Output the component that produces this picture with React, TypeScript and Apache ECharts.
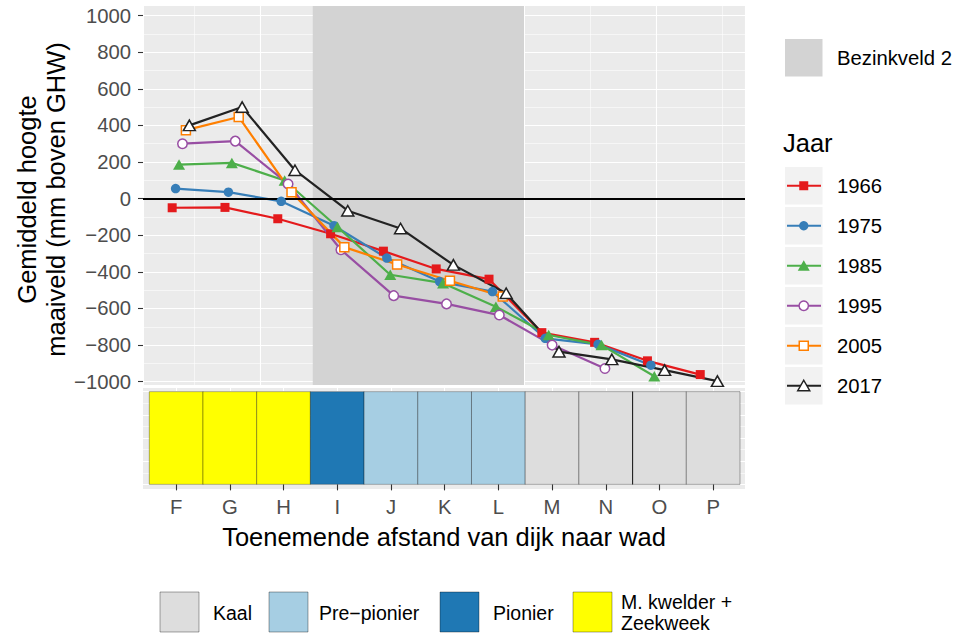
import { useEffect, useRef } from 'react';
import * as echarts from 'echarts';

// ---------- data ----------
const categories = ['F', 'G', 'H', 'I', 'J', 'K', 'L', 'M', 'N', 'O', 'P'];
const distanceM = [40, 80, 120, 160, 200, 240, 280, 320, 360, 400, 440];
const years = ['1966', '1975', '1985', '1995', '2005', '2017'];
const elev1966 = [-50, -48, -110, -192, -287, -384, -440, -732, -785, -886, -961];
const elev1975 = [55, 35, -15, -148, -325, -453, -508, -763, -796, -910, null];
const elev1985 = [186, 195, 99, -155, -416, -462, -590, -745, -800, -970, null];
const elev1995 = [300, 314, 80, -279, -530, -575, -636, -800, -928, null, null];
const elev2005 = [374, 446, 35, -265, -360, -449, -535, null, null, null, null];
const elev2017 = [400, 500, 155, -66, -163, -362, -517, -836, -878, -937, -997];
const yTickValues = [-1000, -800, -600, -400, -200, 0, 200, 400, 600, 800, 1000];
const bezinkveldRange = [140, 300];
const bezinkveldLabel = 'Bezinkveld 2';
const zoneOfCategory = ['kwelder', 'kwelder', 'kwelder', 'pionier', 'prepionier', 'prepionier', 'prepionier', 'kaal', 'kaal', 'kaal', 'kaal'];
const zoneKeys = ['kaal', 'prepionier', 'pionier', 'kwelder'];
const zoneLabels = ['Kaal', 'Pre\u2212pionier', 'Pionier', 'M. kwelder +\nZeekweek'];
const zoneBoundaryBetween = ['N', 'O'];

// ---------- styles ----------
const FONT = "'Liberation Sans', Arial, Helvetica, sans-serif";
const elevations = [elev1966, elev1975, elev1985, elev1995, elev2005, elev2017];
const yearColors = ['#E41A1C', '#377EB8', '#4DAF4A', '#984EA3', '#FF7F00', '#222222'];
const yearShapes = [
  { sym: 'rect', open: false },
  { sym: 'circle', open: false },
  { sym: 'triangle', open: false },
  { sym: 'circle', open: true },
  { sym: 'rect', open: true },
  { sym: 'triangle', open: true },
];
const zoneColors: Record<string, string> = {
  kaal: '#DDDDDD',
  prepionier: '#A6CEE3',
  pionier: '#1F78B4',
  kwelder: '#FFFF00',
};
const dodgeStep = 2.6;

function symbolSizeOf(sym: string): number | number[] {
  if (sym === 'triangle') return [12, 10.5];
  if (sym === 'circle') return 9.5;
  return 9;
}

function markerGraphic(sym: string, open: boolean, color: string, cx: number, cy: number) {
  const style = open ? { fill: '#ffffff', stroke: color, lineWidth: 1.5 } : { fill: color };
  if (sym === 'rect') return { type: 'rect', silent: true, shape: { x: cx - 4.5, y: cy - 4.5, width: 9, height: 9 }, style };
  if (sym === 'circle') return { type: 'circle', silent: true, shape: { cx, cy, r: 4.7 }, style };
  return { type: 'polygon', silent: true, shape: { points: [[cx, cy - 5.5], [cx + 6, cy + 5], [cx - 6, cy + 5]] }, style };
}

function fmtY(v: number) {
  return v < 0 ? '\u2212' + Math.abs(v) : String(v);
}

export default function App() {
  const ref = useRef<HTMLDivElement>(null);

  useEffect(() => {
    document.body.style.margin = '0';
    if (!ref.current) return;
    const chart = echarts.init(ref.current, undefined, { renderer: 'svg' });

    const lineSeries: any[] = [];
    const pointSeries: any[] = [];
    years.forEach((yr, k) => {
      const pts: number[][] = [];
      elevations[k].forEach((v, i) => {
        if (v !== null && v !== undefined) pts.push([distanceM[i] + (k - 2.5) * dodgeStep, v as number]);
      });
      lineSeries.push({
        name: yr,
        type: 'line',
        xAxisIndex: 0,
        yAxisIndex: 0,
        data: pts,
        showSymbol: false,
        silent: true,
        z: 4,
        lineStyle: { color: yearColors[k], width: 2.2 },
        itemStyle: { color: yearColors[k] },
      });
      const shp = yearShapes[k];
      pointSeries.push({
        name: yr + ' punten',
        type: 'scatter',
        xAxisIndex: 0,
        yAxisIndex: 0,
        data: pts,
        silent: true,
        z: 5 + k,
        symbol: shp.sym,
        symbolSize: symbolSizeOf(shp.sym),
        itemStyle: shp.open
          ? { color: '#ffffff', borderColor: yearColors[k], borderWidth: 1.5, opacity: 1 }
          : { color: yearColors[k], borderWidth: 0, opacity: 1 },
      });
    });

    const tileData = categories.map((c, i) => [i, 0.5, zoneKeys.indexOf(zoneOfCategory[i])]);
    const boundaryIdx = (categories.indexOf(zoneBoundaryBetween[0]) + categories.indexOf(zoneBoundaryBetween[1])) / 2;

    // ----- graphics: titles and legends -----
    const graphics: any[] = [];
    graphics.push({
      type: 'text',
      x: 41,
      y: 199.5,
      rotation: Math.PI / 2,
      silent: true,
      style: {
        text: 'Gemiddeld hoogte\nmaaiveld (mm boven GHW)',
        fontSize: 25.5,
        fontFamily: FONT,
        fill: '#000000',
        align: 'center',
        verticalAlign: 'middle',
        lineHeight: 29,
      },
    });
    graphics.push({
      type: 'text',
      x: 444,
      y: 537,
      silent: true,
      style: {
        text: 'Toenemende afstand van dijk naar wad',
        fontSize: 25.5,
        fontFamily: FONT,
        fill: '#000000',
        align: 'center',
        verticalAlign: 'middle',
      },
    });
    // Bezinkveld legend
    graphics.push({ type: 'rect', silent: true, shape: { x: 785, y: 39, width: 37.5, height: 37.5 }, style: { fill: '#D3D3D3' } });
    graphics.push({
      type: 'text', x: 837, y: 58, silent: true,
      style: { text: bezinkveldLabel, fontSize: 20.3, fontFamily: FONT, fill: '#000', align: 'left', verticalAlign: 'middle' },
    });
    // Jaar legend
    graphics.push({
      type: 'text', x: 783, y: 143, silent: true,
      style: { text: 'Jaar', fontSize: 25.5, fontFamily: FONT, fill: '#000', align: 'left', verticalAlign: 'middle' },
    });
    years.forEach((yr, k) => {
      const top = 167 + 40 * k;
      const cy = top + 18.75;
      graphics.push({ type: 'rect', silent: true, shape: { x: 785, y: top, width: 37.5, height: 37.5 }, style: { fill: '#F2F2F2' } });
      graphics.push({ type: 'line', silent: true, shape: { x1: 787, y1: cy, x2: 821, y2: cy }, style: { stroke: yearColors[k], lineWidth: 2.2 } });
      graphics.push(markerGraphic(yearShapes[k].sym, yearShapes[k].open, yearColors[k], 803.75, cy));
      graphics.push({
        type: 'text', x: 837, y: cy, silent: true,
        style: { text: yr, fontSize: 20.3, fontFamily: FONT, fill: '#000', align: 'left', verticalAlign: 'middle' },
      });
    });
    // Zone legend (bottom)
    const keyX = [160, 269, 440, 573];
    const textX = [213, 319, 493, 621];
    zoneKeys.forEach((z, j) => {
      graphics.push({
        type: 'rect', silent: true,
        shape: { x: keyX[j], y: 592, width: 39, height: 40 },
        style: { fill: zoneColors[z], stroke: 'rgba(0,0,0,0.35)', lineWidth: 1 },
      });
      graphics.push({
        type: 'text', x: textX[j], y: 612.5, silent: true,
        style: { text: zoneLabels[j], fontSize: 19.5, fontFamily: FONT, fill: '#000', align: 'left', verticalAlign: 'middle', lineHeight: 20.5 },
      });
    });

    const option: any = {
      animation: false,
      textStyle: { fontFamily: FONT },
      grid: [
        { left: 143, top: 6, width: 602, height: 379, show: true, backgroundColor: '#EBEBEB', borderWidth: 0, containLabel: false },
        { left: 143, top: 387, width: 602, height: 102, show: true, backgroundColor: '#EBEBEB', borderWidth: 0, containLabel: false },
      ],
      xAxis: [
        {
          type: 'value', gridIndex: 0, min: 11.4, max: 467.4, minInterval: 100, maxInterval: 100,
          axisLine: { show: false }, axisTick: { show: false }, axisLabel: { show: false },
          splitLine: { show: true, lineStyle: { color: '#FFFFFF', width: 1.1 } },
          minorTick: { show: false, splitNumber: 2 },
          minorSplitLine: { show: true, lineStyle: { color: '#FFFFFF', width: 0.55 } },
        },
        {
          type: 'value', gridIndex: 1, min: -0.617, max: 10.593, minInterval: 1, maxInterval: 1,
          axisLine: { show: false },
          axisTick: { show: true, length: 6, customValues: categories.map((c, i) => i), lineStyle: { color: '#333333', width: 1.1 } },
          axisLabel: {
            show: true, customValues: categories.map((c, i) => i), margin: 8,
            formatter: (v: number) => categories[Math.round(v)] ?? '',
            color: '#4D4D4D', fontSize: 20.3, fontFamily: FONT,
          },
          splitLine: { show: true, lineStyle: { color: '#FFFFFF', width: 1.1 } },
        },
      ],
      yAxis: [
        {
          type: 'value', gridIndex: 0, min: -1018, max: 1052, minInterval: 200, maxInterval: 200,
          axisLine: { show: false },
          axisTick: { show: true, length: 5, customValues: yTickValues, lineStyle: { color: '#333333', width: 1.1 } },
          axisLabel: {
            show: true, customValues: yTickValues, margin: 12, formatter: fmtY,
            color: '#4D4D4D', fontSize: 20.3, fontFamily: FONT,
          },
          splitLine: { show: true, lineStyle: { color: '#FFFFFF', width: 1.1 } },
          minorTick: { show: false, splitNumber: 2 },
          minorSplitLine: { show: true, lineStyle: { color: '#FFFFFF', width: 0.55 } },
        },
        {
          type: 'value', gridIndex: 1, min: -0.05, max: 1.05, minInterval: 0.25, maxInterval: 0.25,
          axisLine: { show: false }, axisTick: { show: false }, axisLabel: { show: false },
          splitLine: { show: true, lineStyle: { color: '#FFFFFF', width: 1.1 } },
          minorTick: { show: false, splitNumber: 2 },
          minorSplitLine: { show: true, lineStyle: { color: '#FFFFFF', width: 0.55 } },
        },
      ],
      series: [
        {
          name: bezinkveldLabel, type: 'line', xAxisIndex: 0, yAxisIndex: 0, data: [], z: 2, silent: true,
          markArea: {
            silent: true,
            itemStyle: { color: '#D3D3D3', opacity: 1 },
            data: [[{ xAxis: bezinkveldRange[0] }, { xAxis: bezinkveldRange[1] }]],
          },
        },
        {
          name: 'nul', type: 'line', xAxisIndex: 0, yAxisIndex: 0, data: [], z: 3, silent: true,
          markLine: {
            silent: true, symbol: ['none', 'none'], label: { show: false },
            lineStyle: { color: '#000000', width: 1.9, type: 'solid' },
            data: [{ yAxis: 0 }],
          },
        },
        ...lineSeries,
        ...pointSeries,
        {
          name: 'zones', type: 'custom', xAxisIndex: 1, yAxisIndex: 1, data: tileData, z: 2, silent: true,
          renderItem: (params: any, api: any) => {
            const i = api.value(0);
            const zi = api.value(2);
            const p0 = api.coord([i - 0.5, 1]);
            const p1 = api.coord([i + 0.5, 0]);
            return {
              type: 'rect',
              shape: { x: p0[0], y: p0[1], width: p1[0] - p0[0], height: p1[1] - p0[1] },
              style: { fill: zoneColors[zoneKeys[zi]], stroke: 'rgba(0,0,0,0.32)', lineWidth: 1 },
            };
          },
        },
        {
          name: 'grens', type: 'custom', xAxisIndex: 1, yAxisIndex: 1, data: [[boundaryIdx, 0.5]], z: 3, silent: true,
          renderItem: (params: any, api: any) => {
            const x = api.value(0);
            const a = api.coord([x, 1]);
            const b = api.coord([x, 0]);
            return { type: 'line', shape: { x1: a[0], y1: a[1], x2: b[0], y2: b[1] }, style: { stroke: '#111111', lineWidth: 0.9 } };
          },
        },
      ],
      graphic: graphics,
    };

    chart.setOption(option);
    return () => {
      chart.dispose();
    };
  }, []);

  return <div ref={ref} style={{ width: 958, height: 634 }} />;
}
